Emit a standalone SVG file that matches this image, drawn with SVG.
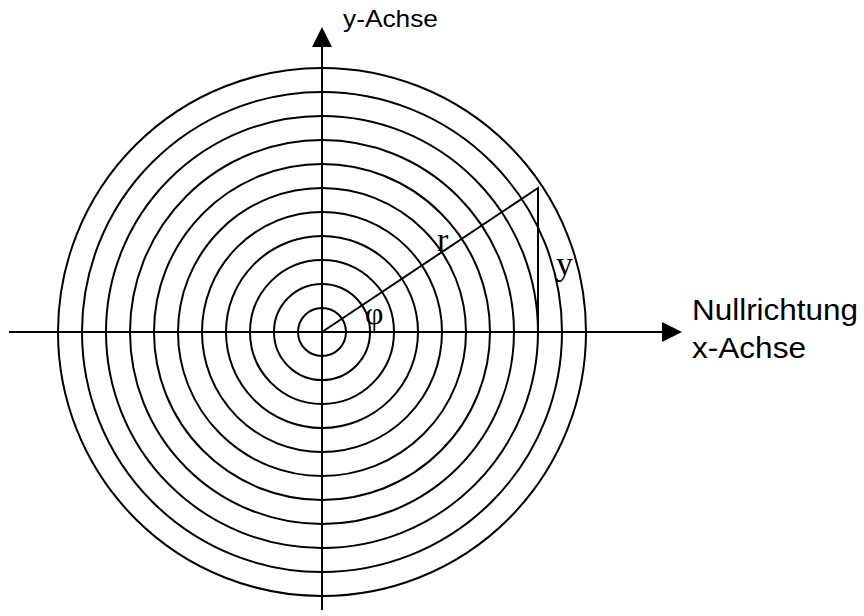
<svg xmlns="http://www.w3.org/2000/svg" width="864" height="616" viewBox="0 0 864 616">
<style>
.c{fill:none;stroke:#000;stroke-width:2}
.l{stroke:#000;stroke-width:2;fill:none}
.sans{font-family:"Liberation Sans",Arial,sans-serif;fill:#000}
.serif{font-family:"Liberation Serif","Times New Roman",serif;fill:#000}
</style>
<rect width="864" height="616" fill="#fff"/>
<g id="circles">
<circle class="c" cx="322" cy="332" r="24"/>
<circle class="c" cx="322" cy="332" r="48"/>
<circle class="c" cx="322" cy="332" r="72"/>
<circle class="c" cx="322" cy="332" r="96"/>
<circle class="c" cx="322" cy="332" r="120"/>
<circle class="c" cx="322" cy="332" r="144"/>
<circle class="c" cx="322" cy="332" r="168"/>
<circle class="c" cx="322" cy="332" r="192"/>
<circle class="c" cx="322" cy="332" r="216"/>
<circle class="c" cx="322" cy="332" r="240"/>
<circle class="c" cx="322" cy="332" r="264"/>
</g>
<g id="axes">
<line class="l" x1="322" y1="46" x2="322" y2="610"/>
<polygon points="322,27 332,47 312,47" fill="#000"/>
<line class="l" x1="9" y1="332" x2="663" y2="332"/>
<polygon points="682,332 662,322 662,342" fill="#000"/>
</g>
<g id="triangle">
<polyline class="l" points="322,332 538,188 538,332"/>
</g>
<g id="labels">
<text class="sans" x="343" y="27" font-size="24" textLength="95" lengthAdjust="spacingAndGlyphs">y-Achse</text>
<text class="sans" x="692" y="320" font-size="30" textLength="166" lengthAdjust="spacingAndGlyphs">Nullrichtung</text>
<text class="sans" x="692" y="358" font-size="30" textLength="114" lengthAdjust="spacingAndGlyphs">x-Achse</text>
<text class="serif" x="437" y="251" font-size="34">r</text>
<text class="serif" x="556" y="275" font-size="34">y</text>
<text class="serif" x="365" y="324" font-size="32">φ</text>
</g>
</svg>
